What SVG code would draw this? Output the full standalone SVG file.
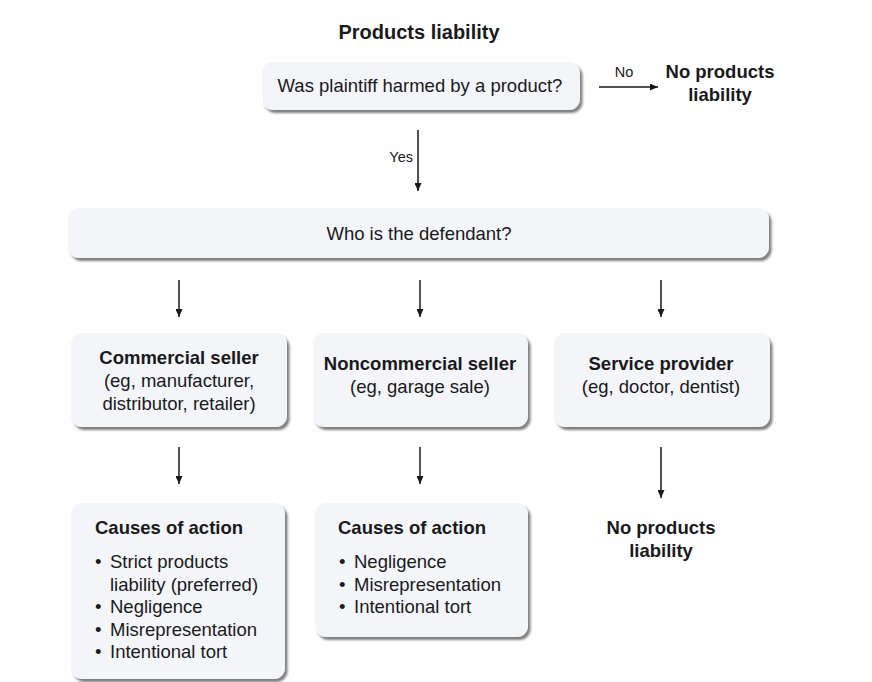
<svg xmlns="http://www.w3.org/2000/svg" width="872" height="682" viewBox="0 0 872 682">
<style>
  .box { fill: #f3f5f9; filter: url(#sh); }
  text { font-family: "Liberation Sans", Arial, sans-serif; fill: #1a1a1a; }
  .t { font-size: 18.5px; }
  .b { font-size: 18.5px; font-weight: bold; }
  .s { font-size: 14.5px; }
  .c { text-anchor: middle; }
  .conn line { stroke: #1a1a1a; stroke-width: 1.5; marker-end: url(#ah); }
</style>
<defs>
  <filter id="sh" x="-10%" y="-10%" width="125%" height="140%">
    <feDropShadow dx="2.5" dy="3" stdDeviation="1.3" flood-color="#3a3a3a" flood-opacity="0.65"/>
  </filter>
  <marker id="ah" viewBox="0 0 10 10" refX="10" refY="5" markerWidth="8" markerHeight="7" markerUnits="userSpaceOnUse" orient="auto" preserveAspectRatio="none">
    <path d="M0,0 L10,5 L0,10 z" fill="#1a1a1a"/>
  </marker>
</defs>
<rect width="872" height="682" fill="#ffffff"/>

<g id="title">
  <text class="c" x="419" y="39" style="font-size:20px;font-weight:bold">Products liability</text>
</g>

<g id="q1">
  <rect class="box" x="262" y="62" width="318" height="48" rx="11"/>
  <text class="t c" x="420" y="92">Was plaintiff harmed by a product?</text>
</g>

<g id="noLiab1">
  <text class="b c" x="720" y="78">No products</text>
  <text class="b c" x="720" y="101">liability</text>
</g>

<g id="q2">
  <rect class="box" x="68" y="208" width="701" height="50" rx="11"/>
  <text class="t c" x="419" y="240">Who is the defendant?</text>
</g>

<g id="commercial">
  <rect class="box" x="71" y="333" width="216" height="94" rx="11"/>
  <text class="b c" x="179" y="364">Commercial seller</text>
  <text class="t c" x="179" y="387">(eg, manufacturer,</text>
  <text class="t c" x="179" y="410">distributor, retailer)</text>
</g>

<g id="noncommercial">
  <rect class="box" x="313" y="333" width="215" height="94" rx="11"/>
  <text class="b c" x="420" y="370">Noncommercial seller</text>
  <text class="t c" x="420" y="393">(eg, garage sale)</text>
</g>

<g id="service">
  <rect class="box" x="554" y="333" width="216" height="94" rx="11"/>
  <text class="b c" x="661" y="370">Service provider</text>
  <text class="t c" x="661" y="393">(eg, doctor, dentist)</text>
</g>

<g id="causes1">
  <rect class="box" x="71" y="503" width="214" height="176" rx="11"/>
  <text class="b" x="95" y="534">Causes of action</text>
  <text class="t" x="95" y="568">•</text><text class="t" x="110" y="568">Strict products</text>
  <text class="t" x="110" y="591">liability (preferred)</text>
  <text class="t" x="95" y="613">•</text><text class="t" x="110" y="613">Negligence</text>
  <text class="t" x="95" y="636">•</text><text class="t" x="110" y="636">Misrepresentation</text>
  <text class="t" x="95" y="658">•</text><text class="t" x="110" y="658">Intentional tort</text>
</g>

<g id="causes2">
  <rect class="box" x="315" y="503" width="213" height="134" rx="11"/>
  <text class="b" x="338" y="534">Causes of action</text>
  <text class="t" x="339" y="568">•</text><text class="t" x="354" y="568">Negligence</text>
  <text class="t" x="339" y="591">•</text><text class="t" x="354" y="591">Misrepresentation</text>
  <text class="t" x="339" y="613">•</text><text class="t" x="354" y="613">Intentional tort</text>
</g>

<g id="noLiab2">
  <text class="b c" x="661" y="534">No products</text>
  <text class="b c" x="661" y="557">liability</text>
</g>

<g id="connectors" class="conn">
  <line x1="599" y1="87" x2="658" y2="87"/>
  <text class="s c" x="624" y="77">No</text>
  <line x1="418" y1="130" x2="418" y2="191"/>
  <text class="s" x="413" y="162" text-anchor="end">Yes</text>
  <line x1="179" y1="280" x2="179" y2="317"/>
  <line x1="420" y1="280" x2="420" y2="317"/>
  <line x1="661" y1="280" x2="661" y2="317"/>
  <line x1="179" y1="447" x2="179" y2="484"/>
  <line x1="420" y1="447" x2="420" y2="484"/>
  <line x1="661" y1="447" x2="661" y2="498"/>
</g>
</svg>
